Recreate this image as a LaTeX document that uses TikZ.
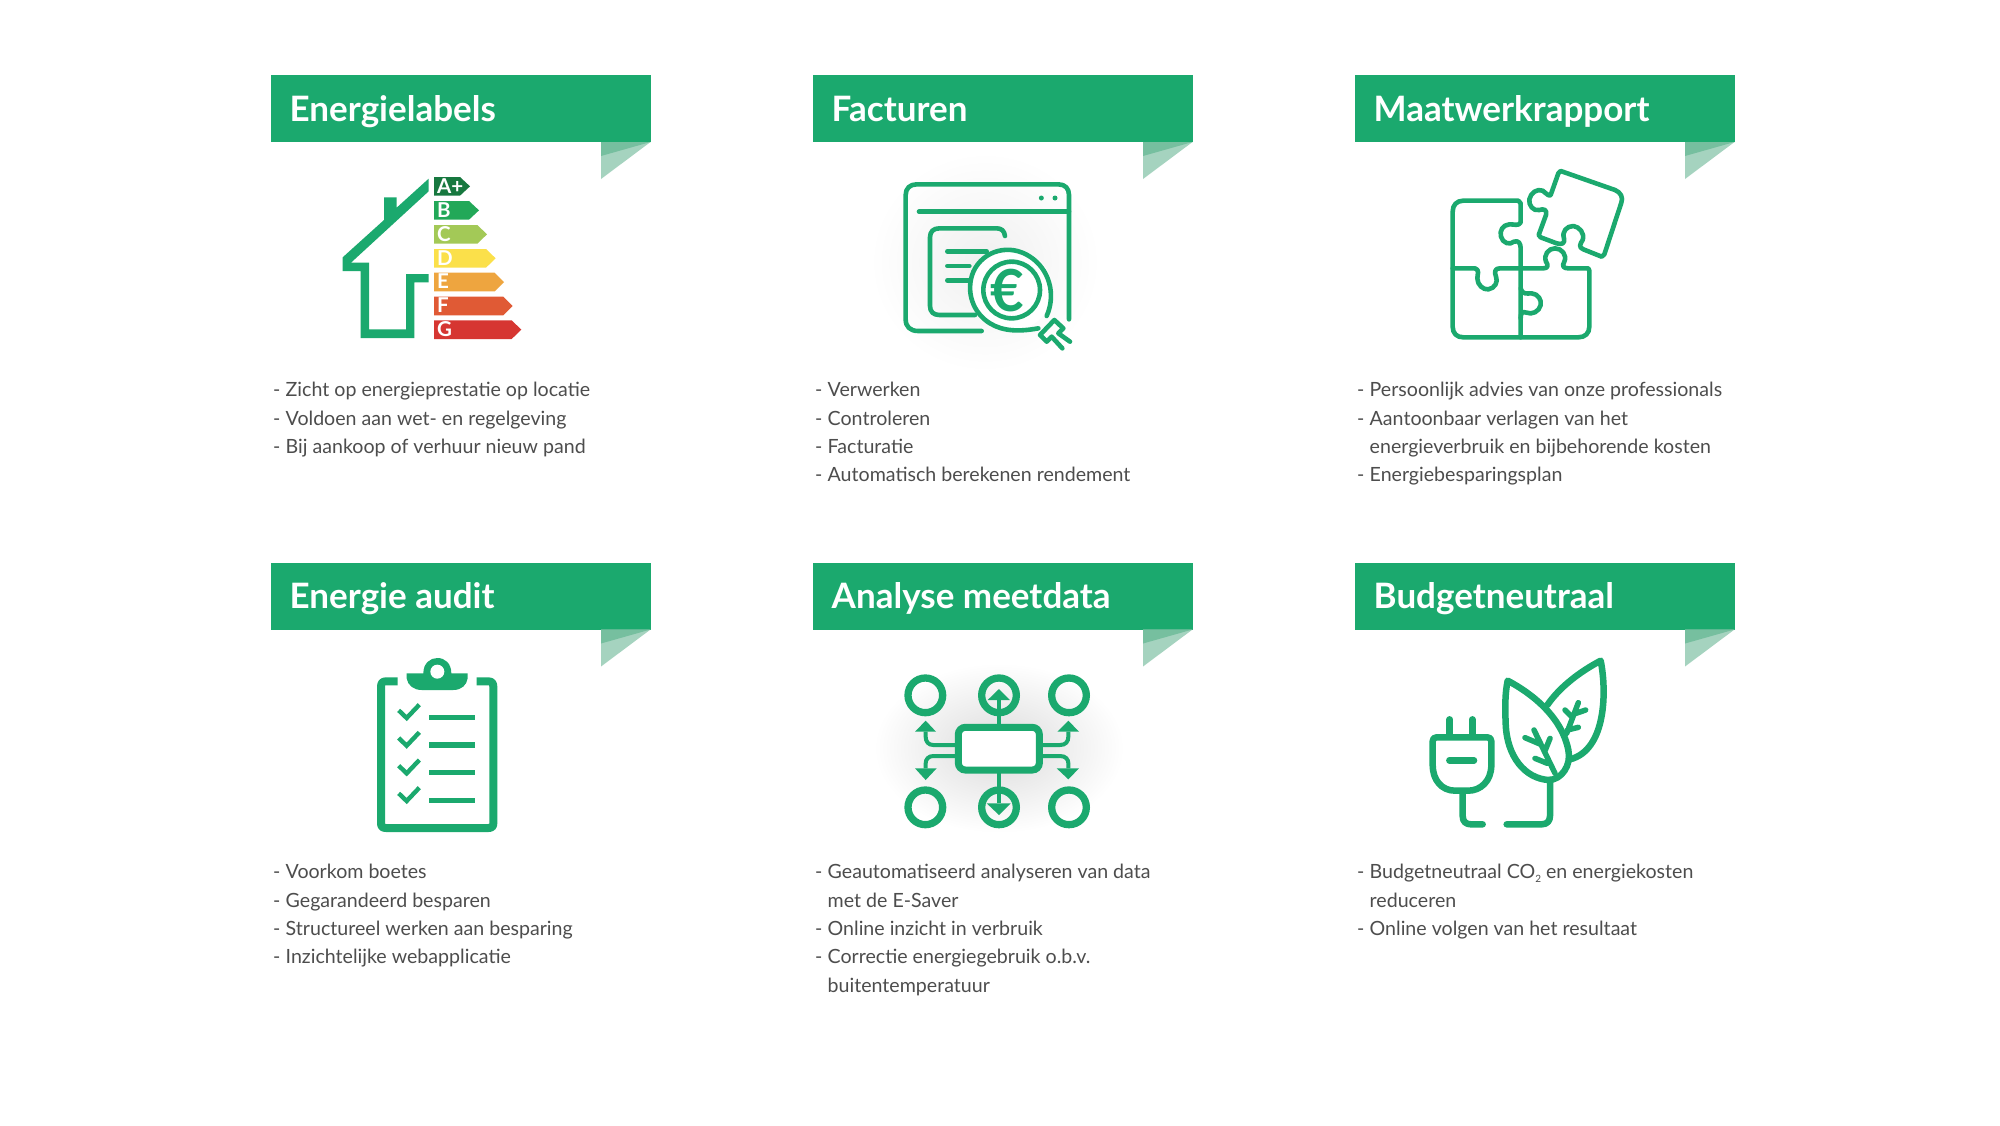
\documentclass[tikz,border=0pt]{standalone}
\usepackage{fontspec}
\setmainfont{Lato}
\definecolor{grn}{HTML}{1BA96E}
\definecolor{foldA}{HTML}{76BF9F}
\definecolor{foldB}{HTML}{A5D3BF}
\definecolor{txtc}{HTML}{4D4D4D}
\definecolor{labA}{HTML}{17783F}
\definecolor{labB}{HTML}{22A858}
\definecolor{labC}{HTML}{A3C957}
\definecolor{labD}{HTML}{FBE04A}
\definecolor{labE}{HTML}{EEA53F}
\definecolor{labF}{HTML}{E05A35}
\definecolor{labG}{HTML}{D63632}
\tikzset{
  banner/.style={fill=grn,draw=none},
  titletext/.style={anchor=base west,inner sep=0pt,text=white,font=\fontsize{35}{40}\selectfont\bfseries},
  bodytext/.style={anchor=base west,inner sep=0pt,text=txtc,font=\fontsize{19.6}{24}\selectfont},
  ic/.style={draw=grn,line width=#1,line cap=round,line join=round},
  ic/.default=4.6pt,
  zoomed/.style={x=0.33333pt,y=-0.33333pt},
  lab/.style={anchor=base west,inner sep=0pt,text=white,font=\fontsize{20.5}{22}\selectfont\bfseries},
}
\newcommand{\bannerat}[4]{%
  \fill[banner] (#1,#2) rectangle ++(379.5,67);
  \fill[foldB] (#1+330,#2+67) -- (#1+379.5,#2+67) -- (#1+330,#2+104) -- cycle;
  \fill[foldA] (#1+330,#2+67) -- (#1+379.5,#2+67) -- (#1+330,#2+81) -- cycle;
  \node[titletext] (#4) at (#1+18.5,#2+46) {#3};
}
\newcommand{\dashline}[4]{\node[bodytext] (#4) at (#1+2,#2) {-};\node[bodytext] (#4t) at (#1+14.5,#2) {#3};}
\newcommand{\contline}[4]{\node[bodytext] (#4) at (#1+14.5,#2) {#3};}
\newcommand{\labelarrow}[6]{%
  \fill[#5] (522,#1) -- (#2,#1) -- (#3,#1+28) -- (#2,#1+56) -- (522,#1+56) -- cycle;
  \node[lab] (#6) at (531,#1+48) {#4};
}
\begin{document}
\begin{tikzpicture}[x=1pt,y=-1pt]
\useasboundingbox (0,0) rectangle (2000,1125);
\fill[white] (0,0) rectangle (2000,1125);

% soft shadows
\shade[inner color=black!6,outer color=white] (985,262) ellipse (115 and 110);
\shade[inner color=black!14,outer color=white] (999,748) ellipse (125 and 85);

% banners
\bannerat{271}{75}{Energielabels}{t1}
\bannerat{813}{75}{Facturen}{t2}
\bannerat{1355}{75}{Maatwerkrapport}{t3}
\bannerat{271}{562.5}{Energie audit}{t4}
\bannerat{813}{562.5}{Analyse meetdata}{t5}
\bannerat{1355}{562.5}{Budgetneutraal}{t6}

% texts
\dashline{271}{396}{Zicht op energieprestatie op locatie}{a1}
\dashline{271}{425}{Voldoen aan wet- en regelgeving}{a2}
\dashline{271}{453}{Bij aankoop of verhuur nieuw pand}{a3}
\dashline{813}{396}{Verwerken}{b1}
\dashline{813}{425}{Controleren}{b2}
\dashline{813}{453}{Facturatie}{b3}
\dashline{813}{481}{Automatisch berekenen rendement}{b4}
\dashline{1355}{396}{Persoonlijk advies van onze professionals}{c1}
\dashline{1355}{425}{Aantoonbaar verlagen van het}{c2}
\contline{1355}{453}{energieverbruik en bijbehorende kosten}{c3}
\dashline{1355}{481}{Energiebesparingsplan}{c4}
\dashline{271}{878}{Voorkom boetes}{d1}
\dashline{271}{907}{Gegarandeerd besparen}{d2}
\dashline{271}{935}{Structureel werken aan besparing}{d3}
\dashline{271}{963}{Inzichtelijke webapplicatie}{d4}
\dashline{813}{878}{Geautomatiseerd analyseren van data}{e1}
\contline{813}{907}{met de E-Saver}{e2}
\dashline{813}{935}{Online inzicht in verbruik}{e3}
\dashline{813}{963}{Correctie energiegebruik o.b.v.}{e4}
\contline{813}{992}{buitentemperatuur}{e5}
\dashline{1355}{878}{Budgetneutraal CO\raisebox{-4pt}{\fontsize{10}{10}\selectfont 2} en energiekosten}{f1}
\contline{1355}{907}{reduceren}{f2}
\dashline{1355}{935}{Online volgen van het resultaat}{f3}

% Energielabels icon
\begin{scope}[shift={(260,60)},zoomed]
\fill[grn] (506,356) -- (410,443) -- (410,412) -- (372,412) -- (372,480) -- (248,592) -- (248,633) -- (302,633) -- (302,834) -- (463,834) -- (463,667) -- (506,667) -- (506,642) -- (438,642) -- (438,808) -- (327,808) -- (327,608) -- (273,608) -- (506,394) -- cycle;
\labelarrow{351}{600}{630}{A+}{labA}{la}
\labelarrow{423}{627}{657}{B}{labB}{lb}
\labelarrow{495}{652}{681}{C}{labC}{lc}
\labelarrow{567}{678}{707}{D}{labD}{ld}
\labelarrow{638}{704}{732}{E}{labE}{le}
\labelarrow{710}{730}{758}{F}{labF}{lf}
\labelarrow{781}{755}{784}{G}{labG}{lg}
\end{scope}

% Facturen icon
\begin{scope}[shift={(880,160)},zoomed]
\draw[ic] (305,513) -- (115,513) .. controls (90,513) and (77,500) .. (77,478) -- (77,105) .. controls (77,85) and (90,73) .. (110,73) -- (535,73) .. controls (555,73) and (567,85) .. (567,105) -- (567,478);
\draw[ic] (117,155) -- (567,155);
\fill[grn] (484,114) circle (7.5) (525,114) circle (7.5);
\draw[ic] (375,228) .. controls (373,213) and (365,205) .. (350,205) -- (178,205) .. controls (160,205) and (150,215) .. (150,232) -- (150,438) .. controls (150,455) and (160,465) .. (178,465) -- (285,465);
\draw[ic] (202,274) -- (320,274) (202,318) -- (268,318) (202,361) -- (268,361);
\fill[white] (395,390) circle (122);
\draw[ic] (500,468) .. controls (530,400) and (505,325) .. (450,290) .. controls (390,250) and (310,270) .. (280,335) .. controls (255,395) and (280,460) .. (330,490) .. controls (370,515) and (420,515) .. (475,505);
\draw[ic] (395,390) circle (85);
\node[inner sep=0pt,text=grn,font=\fontsize{58}{58}\selectfont\bfseries] (euro) at (383,393) {€};
\draw[ic] (480,525) -- (523,480) -- (550,505) -- (535,520) -- (570,545) (480,525) -- (500,545) -- (515,530) -- (547,565);
\end{scope}

% Puzzle icon
\begin{scope}[shift={(1420,160)},zoomed]
\draw[ic] (98,325) -- (98,155) .. controls (98,135) and (110,122) .. (130,122) -- (295,122) -- (302,130) -- (302,187) .. controls (295,200) and (282,192) .. (268,193) .. controls (248,195) and (238,212) .. (243,230) .. controls (248,250) and (270,256) .. (282,245) .. controls (295,240) and (302,250) .. (302,265) -- (302,532);
\draw[ic] (98,325) -- (165,325) .. controls (180,330) and (172,342) .. (172,355) .. controls (172,375) and (190,390) .. (205,388) .. controls (225,385) and (235,365) .. (228,350) .. controls (222,335) and (225,325) .. (240,325) -- (370,325) .. controls (385,325) and (385,315) .. (378,305) .. controls (370,285) and (385,265) .. (405,265) .. controls (425,265) and (442,285) .. (433,305) .. controls (425,318) and (430,325) .. (445,325) -- (505,325) -- (508,332) -- (508,500) .. controls (508,520) and (495,532) .. (475,532) -- (130,532) .. controls (110,532) and (98,520) .. (98,500) -- cycle;
\draw[ic] (302,385) .. controls (308,405) and (320,400) .. (335,400) .. controls (355,402) and (365,420) .. (362,435) .. controls (358,455) and (335,465) .. (320,458) .. controls (305,452) and (302,462) .. (302,475);
\draw[ic] (392,105) -- (415,40) -- (422,33) -- (585,90) .. controls (602,97) and (610,112) .. (604,128) -- (553,283) -- (545,290) -- (490,268) .. controls (475,262) and (480,252) .. (488,240) .. controls (495,220) and (478,200) .. (460,198) .. controls (440,198) and (425,215) .. (432,235) .. controls (436,250) and (425,255) .. (410,250) -- (362,232) -- (356,225) -- (378,165) .. controls (382,150) and (372,145) .. (358,150) .. controls (340,155) and (325,135) .. (328,118) .. controls (332,98) and (352,85) .. (368,92) .. controls (380,102) and (388,110) .. (392,105) -- cycle;
\end{scope}

% Clipboard icon
\begin{scope}[shift={(360,650)},zoomed]
\draw[grn,line width=8pt,line join=round] (113,94) -- (78,94) .. controls (68,94) and (63,99) .. (63,110) -- (63,520) .. controls (63,530) and (68,534) .. (78,534) -- (385,534) .. controls (395,534) and (400,530) .. (400,520) -- (400,110) .. controls (400,99) and (395,94) .. (385,94) -- (350,94);
\fill[grn] (140,70) -- (190,70) .. controls (190,40) and (210,24) .. (232,24) .. controls (255,24) and (274,40) .. (274,70) -- (323,70) -- (323,85) .. controls (320,105) and (305,120) .. (280,120) -- (185,120) .. controls (160,120) and (143,105) .. (140,85) -- cycle;
\fill[white] (232,65) circle (21);
\foreach \dy in {0,83,166,249}{
  \draw[ic=4.4pt,line cap=butt,line join=miter,shift={(0,\dy)}] (116,181) -- (140,204) -- (178,164);
  \fill[grn,shift={(0,\dy)}] (208,194) rectangle (345,210);
}
\end{scope}

% Meetdata icon
\begin{scope}[shift={(890,660)},zoomed]
\foreach \cx/\cy in {106/106,327/106,537/106,106/442,327/442,537/442}{
  \draw[grn,line width=7.3pt] (\cx,\cy) circle (52);
}
\fill[white] (205,202) rectangle (448,330);
\draw[grn,line width=7pt,rounded corners=7pt] (205,202) rectangle (448,330);
\draw[grn,line width=4pt] (327,192) -- (327,120) (327,340) -- (327,430);
\fill[grn] (293,120) -- (360,120) -- (327,87) -- cycle (290,430) -- (362,430) -- (327,465) -- cycle;
\draw[grn,line width=4pt] (195,255) -- (130,255) .. controls (115,255) and (107,245) .. (107,230) -- (107,215);
\draw[grn,line width=4pt] (195,288) -- (130,288) .. controls (115,288) and (107,298) .. (107,310) -- (107,325);
\draw[grn,line width=4pt] (458,255) -- (510,255) .. controls (527,255) and (535,245) .. (535,230) -- (535,215);
\draw[grn,line width=4pt] (458,288) -- (510,288) .. controls (527,288) and (535,298) .. (535,310) -- (535,325);
\fill[grn] (75,215) -- (138,215) -- (107,182) -- cycle (75,325) -- (140,325) -- (107,360) -- cycle (502,215) -- (567,215) -- (535,182) -- cycle (500,325) -- (567,325) -- (535,358) -- cycle;
\end{scope}

% Plug and leaves icon
\begin{scope}[shift={(1410,650)},zoomed]
\draw[ic=6.5pt] (119,208) -- (119,255) (187,208) -- (187,255);
\draw[ic=6.5pt] (80,262) -- (232,262) .. controls (240,262) and (244,266) .. (244,274) -- (244,345) .. controls (244,395) and (210,422) .. (175,422) -- (135,422) .. controls (95,422) and (68,390) .. (68,345) -- (68,274) .. controls (68,266) and (72,262) .. (80,262) -- cycle;
\draw[ic=6.5pt] (118,331) -- (192,331);
\draw[ic=6.5pt] (158,425) -- (158,498) .. controls (158,515) and (168,523) .. (183,523) -- (218,523);
\draw[ic=6.5pt] (290,523) -- (395,523) .. controls (412,523) and (420,512) .. (420,498) -- (420,390);
\draw[ic=6.5pt] (293,92) .. controls (365,130) and (455,200) .. (475,300) .. controls (485,345) and (455,390) .. (415,390) .. controls (345,385) and (290,320) .. (287,220) .. controls (285,170) and (285,130) .. (293,92) -- cycle;
\draw[ic=6.5pt] (412,165) .. controls (450,110) and (510,65) .. (572,32) .. controls (590,120) and (590,300) .. (480,328);
\draw[ic=5.5pt] (435,370) -- (372,240) (404,305) -- (420,265) (392,283) -- (345,263) (412,340) -- (375,325);
\draw[ic=5.5pt] (505,158) -- (470,250) (485,200) -- (465,180) (492,192) -- (527,180) (472,240) -- (505,232);
\end{scope}
\end{tikzpicture}
\end{document}
